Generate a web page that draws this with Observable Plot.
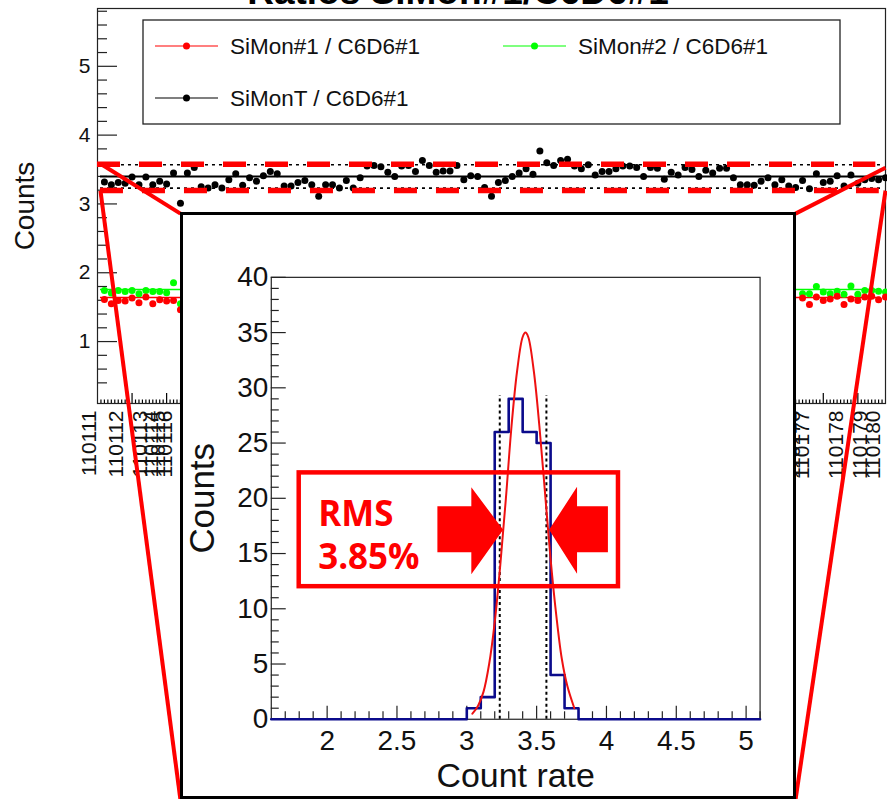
<!DOCTYPE html>
<html><head><meta charset="utf-8">
<script src="https://cdn.jsdelivr.net/npm/d3@7"></script>
<script src="https://cdn.jsdelivr.net/npm/@observablehq/plot@0.6"></script>
<style>
html,body{margin:0;padding:0;background:#fff;}
#wrap{position:relative;width:887px;height:799px;overflow:hidden;font-family:"Liberation Sans",Arial,sans-serif;}
#main{position:absolute;left:0;top:0;}
#inset{position:absolute;left:180px;top:212px;width:616px;height:587px;box-sizing:border-box;border:3.5px solid #000;background:#fff;}
#insetPlot{position:absolute;left:-3.5px;top:-2.5px;}
#overlay{position:absolute;left:0;top:0;pointer-events:none;}
</style></head>
<body>
<div id="wrap">
  <div id="main"></div>
  <div id="inset"><div id="insetPlot"></div></div>
  <svg id="overlay" width="887" height="130"></svg>
</div>
<script>
// ---------------- DATA ----------------
const title = "Ratios SiMon#1/C6D6#1";
const seriesNames = ["SiMon#1 / C6D6#1", "SiMon#2 / C6D6#1", "SiMonT / C6D6#1"];
const seriesColors = ["#ff0000", "#00ff00", "#000000"];

// SiMonT / C6D6#1 ratio for runs (index 1..114)
const ratioT = [3.32,3.28,3.31,3.30,3.39,3.28,3.39,3.28,3.33,3.29,3.45,3.01,3.45,3.53,3.25,3.23,3.28,3.23,3.35,3.44,
3.27,3.38,3.33,3.41,3.47,3.44,3.26,3.26,3.31,3.34,3.28,3.11,3.28,3.28,3.23,3.34,3.23,3.38,3.55,3.56,
3.54,3.46,3.40,3.55,3.56,3.47,3.63,3.56,3.46,3.48,3.48,3.56,3.35,3.41,3.40,3.24,3.11,3.31,3.34,3.40,
3.45,3.51,3.43,3.77,3.60,3.56,3.63,3.65,3.55,3.51,3.57,3.42,3.47,3.47,3.51,3.55,3.55,3.53,3.40,3.53,
3.52,3.36,3.46,3.42,3.53,3.50,3.40,3.49,3.45,3.52,3.52,3.38,3.28,3.28,3.27,3.33,3.38,3.28,3.35,3.26,
3.24,3.34,3.22,3.44,3.31,3.33,3.41,3.26,3.42,3.30,3.35,3.37,3.35,3.38];

// SiMon#1 and SiMon#2 ratios (only the runs not hidden by the inset)
const sideRuns = [1,2,3,4,5,6,7,8,9,10,11,12,102,103,104,105,106,107,108,109,110,111,112,113,114];
const ratio2 = [1.743,1.705,1.743,1.729,1.743,1.695,1.743,1.729,1.729,1.71,1.855,1.55,
1.695,1.695,1.80,1.72,1.695,1.73,1.686,1.806,1.686,1.743,1.743,1.73,1.72];
const ratio1 = [1.613,1.55,1.598,1.589,1.632,1.565,1.647,1.55,1.608,1.589,1.598,1.464,
1.632,1.54,1.647,1.598,1.62,1.66,1.54,1.62,1.598,1.647,1.66,1.608,1.647];

const meanT = 3.40, bandT = [3.23, 3.57], bandRed = [3.195, 3.575];
const mean1 = 1.64, mean2 = 1.755;

// visible run-number tick labels
const runLabels = ["110111","110112","110113","110114","110115","110116","110176","110177","110178","110179","110180"];
const runLabelPos = [-0.15, 3.7, 7.2, 8.8, 9.8, 10.85, 101.7, 102.9, 107.8, 111.3, 113.2];

const mainYMajor = [1,2,3,4,5];
const mainXMajor = [5,10,15,20,25,30,35,40,45,50,55,60,65,70,75,80,85,90,95,100,105,110];

// zoom guide lines (main chart coordinates: run index, ratio)
const zoomLinks = [
  {x1: 0.43, y1: 3.584, x2: 12.0, y2: 2.859},
  {x1: 0.43, y1: 3.193, x2: 12.0, y2: -5.66},
  {x1: 114,  y1: 3.527, x2: 100.98, y2: 2.859},
  {x1: 114,  y1: 3.193, x2: 100.98, y2: -5.66}
];

// Inset histogram
const histLow = [3.0,3.1,3.2,3.3,3.4,3.5,3.6,3.7];
const histCounts = [1,2,26,29,26,25,4,1];
const fitX = [3.04,3.08,3.12,3.16,3.20,3.24,3.28,3.32,3.36,3.40,3.42,3.44,3.48,3.52,3.56,3.60,3.64,3.68,3.72,3.77];
const fitY = [0.5,1.2,2.5,5.0,8.8,14.0,20.0,26.5,31.5,34.6,35.0,34.6,31.5,26.5,20.5,14.5,9.5,5.5,3.0,1.0];
const rmsLines = [3.236, 3.57];
const rmsTop = 29.3;
const insetYMajor = [0,5,10,15,20,25,30,35,40];
const insetXMajor = [2,2.5,3,3.5,4,4.5,5];
const rmsText = ["RMS", "3.85%"];
const rmsTextY = [18.5, 14.6];
const rmsBox = {x1: 1.80, x2: 4.086, y1: 12.0, y2: 22.3};
const arrowLeft = [
  {x: 2.793, y1: 15.08, y2: 19.23}, {x: 3.036, y1: 15.08, y2: 19.23},
  {x: 3.036, y1: 13.09, y2: 20.95}, {x: 3.264, y1: 17.1, y2: 17.1}];
const arrowRight = [
  {x: 3.593, y1: 17.1, y2: 17.1}, {x: 3.793, y1: 13.13, y2: 21.0},
  {x: 3.793, y1: 15.08, y2: 19.23}, {x: 4.014, y1: 15.08, y2: 19.23}];

// ---------------- MAIN CHART ----------------
const FONT = "Liberation Sans, Arial, Helvetica, sans-serif";
const blackData = ratioT.map((v, i) => ({run: i + 1, v}));
const sideData1 = sideRuns.map((r, i) => ({run: r, v: ratio1[i]}));
const sideData2 = sideRuns.map((r, i) => ({run: r, v: ratio2[i]}));
const mainYMinor = d3.range(2, 30).map(k => +(k * 0.2).toFixed(2)).filter(v => !mainYMajor.includes(v));
const mainXMinor = d3.range(1, 228).map(k => k * 0.5).filter(v => !mainXMajor.includes(v));
const pxY = 395 / 5.74, pxX = 788 / 114;

const main = Plot.plot({
  width: 887, height: 799,
  marginLeft: 97, marginRight: 2, marginTop: 8, marginBottom: 396,
  x: {domain: [0, 114], axis: null},
  y: {domain: [0.1, 5.84], axis: null},
  style: {fontFamily: FONT, background: "white", overflow: "visible", color: "black"},
  marks: [
    Plot.frame({stroke: "#222", strokeWidth: 1.2}),
    Plot.ruleY(mainYMajor, {y: d => d, x1: 0, x2: 20 / pxX, stroke: "#222", strokeWidth: 1.2}),
    Plot.ruleY(mainYMinor, {y: d => d, x1: 0, x2: 10 / pxX, stroke: "#222", strokeWidth: 1.2}),
    Plot.ruleX(mainXMajor, {x: d => d, y1: 0.1, y2: 0.1 + 10 / pxY, stroke: "#000", strokeWidth: 1.2}),
    Plot.ruleX(mainXMinor, {x: d => d, y1: 0.1, y2: 0.1 + 3.5 / pxY, stroke: "#000", strokeWidth: 1.2}),
    Plot.text(mainYMajor, {y: d => d, text: d => String(d), frameAnchor: "left", textAnchor: "end", dx: -7, fontSize: 21, fill: "#111"}),
    Plot.text(["Counts"], {frameAnchor: "left", textAnchor: "middle", rotate: -90, dx: -72, fontSize: 28, fill: "#111"}),
    Plot.text(runLabels, {x: (d, i) => runLabelPos[i], frameAnchor: "bottom", rotate: -90, textAnchor: "end", dy: 7, fontSize: 21, fill: "#111"}),
    // mean lines
    Plot.ruleY([mean2], {y: d => d, x1: 0.43, x2: 113.3, stroke: seriesColors[1], strokeWidth: 1.5}),
    Plot.ruleY([mean1], {y: d => d, x1: 0.43, x2: 113.3, stroke: seriesColors[0], strokeWidth: 1.5}),
    Plot.ruleY([meanT], {y: d => d, x1: 0.43, x2: 114, stroke: "#000", strokeWidth: 2}),
    Plot.ruleY(bandT, {y: d => d, x1: 0.43, x2: 113.3, stroke: "#000", strokeWidth: 1.6, strokeDasharray: "3,4"}),
    // points
    Plot.dot(sideData2, {x: "run", y: "v", r: 3.5, fill: seriesColors[1], stroke: "none"}),
    Plot.dot(sideData1, {x: "run", y: "v", r: 3.5, fill: seriesColors[0], stroke: "none"}),
    Plot.dot(blackData, {x: "run", y: "v", r: 3.5, fill: "#000", stroke: "none"}),
    // red dashed band
    Plot.ruleY([bandRed[1]], {y: d => d, x1: 0, x2: 112.6, stroke: "#ff0000", strokeWidth: 5.5, strokeDasharray: "23,19"}),
    Plot.ruleY([bandRed[0]], {y: d => d, x1: 0.43, x2: 113.1, stroke: "#ff0000", strokeWidth: 5.5, strokeDasharray: "23,19"}),
    // zoom guide lines
    Plot.link(zoomLinks, {x1: "x1", y1: "y1", x2: "x2", y2: "y2", stroke: "#ff0000", strokeWidth: 4})
  ]
});
document.getElementById("main").appendChild(main);

// ---------------- INSET HISTOGRAM ----------------
const edges = d3.range(36).map(k => +(1.6 + 0.1 * k).toFixed(2));
const stepData = edges.map(e => {
  const j = histLow.findIndex(l => Math.abs(l - e) < 1e-6);
  return {x: e, y: j >= 0 ? histCounts[j] : 0};
});
const fitData = fitX.map((x, i) => ({x, y: fitY[i]}));
const ipxX = 140, ipxY = 443 / 40;
const insetYMinor = d3.range(1, 40).filter(v => !insetYMajor.includes(v));
const insetXMinor = d3.range(17, 52).map(k => +(k * 0.1).toFixed(2)).filter(v => !insetXMajor.includes(v));

const inset = Plot.plot({
  width: 615, height: 586,
  marginLeft: 91, marginRight: 34, marginTop: 64, marginBottom: 79,
  x: {domain: [1.6, 5.1], axis: null},
  y: {domain: [0, 40], axis: null},
  style: {fontFamily: FONT, background: "transparent", overflow: "visible", color: "black"},
  marks: [
    Plot.frame({stroke: "#222", strokeWidth: 1.2}),
    Plot.ruleY(insetYMajor, {y: d => d, x1: 1.6, x2: 1.6 + 15 / ipxX, stroke: "#222", strokeWidth: 1.2}),
    Plot.ruleY(insetYMinor, {y: d => d, x1: 1.6, x2: 1.6 + 8 / ipxX, stroke: "#222", strokeWidth: 1.2}),
    Plot.ruleX(insetXMajor, {x: d => d, y1: 0, y2: 13 / ipxY, stroke: "#222", strokeWidth: 1.2}),
    Plot.ruleX(insetXMinor, {x: d => d, y1: 0, y2: 7.5 / ipxY, stroke: "#222", strokeWidth: 1.2}),
    Plot.text(insetYMajor, {y: d => d, text: d => String(d), frameAnchor: "left", textAnchor: "end", dx: -3, fontSize: 28, fill: "#111"}),
    Plot.text(insetXMajor, {x: d => d, text: d => String(d), frameAnchor: "bottom", textAnchor: "middle", dy: 31, fontSize: 28, fill: "#111"}),
    Plot.text(["Count rate"], {frameAnchor: "bottom", textAnchor: "middle", dy: 68, fontSize: 34, fill: "#111"}),
    Plot.text(["Counts"], {frameAnchor: "left", textAnchor: "middle", rotate: -90, dx: -69, fontSize: 35, fill: "#111"}),
    Plot.line(stepData, {x: "x", y: "y", curve: "step-after", stroke: "#0b0b8c", strokeWidth: 2.6}),
    Plot.ruleX(rmsLines, {x: d => d, y1: 0, y2: rmsTop, stroke: "#000", strokeWidth: 2, strokeDasharray: "3,3"}),
    Plot.line(fitData, {x: "x", y: "y", curve: "catmull-rom", stroke: "#ee1111", strokeWidth: 2}),
    Plot.rect([rmsBox], {x1: "x1", x2: "x2", y1: "y1", y2: "y2", fill: "none", stroke: "#ff0000", strokeWidth: 4.5}),
    Plot.areaY(arrowLeft, {x: "x", y1: "y1", y2: "y2", fill: "#ff0000"}),
    Plot.areaY(arrowRight, {x: "x", y1: "y1", y2: "y2", fill: "#ff0000"}),
    Plot.text(rmsText, {x: 1.936, y: (d, i) => rmsTextY[i], text: d => d, textAnchor: "start", fontFamily: "Open Sans, Noto Sans, sans-serif", fontWeight: "bold", fontSize: 35, fill: "#ff0000"})
  ]
});
document.getElementById("insetPlot").appendChild(inset);

// ---------------- TITLE + LEGEND ----------------
const ov = d3.select("#overlay");
ov.append("text").attr("x", 458).attr("y", 3.5).attr("text-anchor", "middle")
  .attr("font-family", FONT).attr("font-weight", "bold").attr("font-size", 37).attr("fill", "#000").text(title);
ov.append("rect").attr("x", 143).attr("y", 20).attr("width", 697).attr("height", 104)
  .attr("fill", "none").attr("stroke", "#222").attr("stroke-width", 1.3);
const legendPos = [[155, 46], [503, 46], [155, 98]];
seriesNames.forEach((name, i) => {
  const [lx, ly] = legendPos[i];
  const g = ov.append("g");
  g.append("line").attr("x1", lx).attr("x2", lx + 63).attr("y1", ly).attr("y2", ly)
    .attr("stroke", seriesColors[i]).attr("stroke-width", 1.2);
  g.append("circle").attr("cx", lx + 31.5).attr("cy", ly).attr("r", 3.5).attr("fill", seriesColors[i]);
  g.append("text").attr("x", lx + 75).attr("y", ly).attr("dy", "0.36em")
    .attr("font-family", FONT).attr("font-size", 22.5).attr("fill", "#111").text(name);
});
</script>
</body></html>
